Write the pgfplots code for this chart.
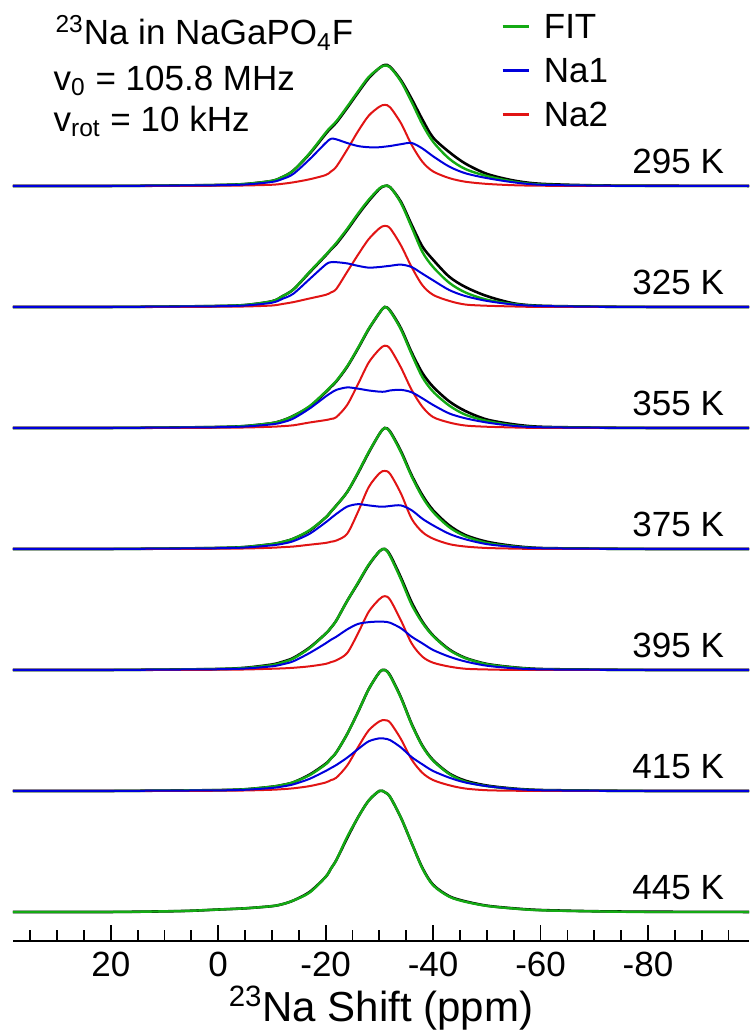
\documentclass[border=0pt]{standalone}
\usepackage{pgfplots}
\pgfplotsset{compat=1.18}
\usepackage{pgfplotstable}
\usepackage{fontspec}
\setmainfont{Liberation Sans}
\definecolor{fitc}{RGB}{20,170,20}
\definecolor{na1c}{RGB}{0,0,220}
\definecolor{na2c}{RGB}{225,20,20}

\pgfplotstableread{
x na1 na2 fit exp
38.2 0 0 0 0
20 0 0 0 0
10 0.003 0 0.003 0.003
0 0.006 0.002 0.008 0.008
-5 0.012 0.004 0.016 0.016
-10 0.033 0.010 0.042 0.042
-12 0.058 0.018 0.075 0.075
-14 0.10 0.030 0.128 0.128
-17 0.22 0.055 0.27 0.265
-20 0.355 0.09 0.44 0.43
-21 0.39 0.12 0.49 0.48
-22 0.385 0.16 0.535 0.525
-24 0.355 0.30 0.655 0.645
-26 0.33 0.45 0.78 0.77
-28 0.32 0.58 0.90 0.89
-30 0.32 0.655 0.975 0.975
-31 0.325 0.67 0.995 1.0
-32 0.33 0.65 0.98 0.985
-34 0.345 0.52 0.865 0.875
-36 0.355 0.34 0.695 0.72
-38 0.31 0.20 0.51 0.55
-40 0.245 0.12 0.365 0.40
-43 0.16 0.065 0.225 0.28
-46 0.105 0.035 0.14 0.185
-50 0.065 0.017 0.082 0.10
-55 0.03 0.006 0.036 0.045
-60 0.01 0.002 0.012 0.018
-70 0.003 0 0.003 0.005
-80 0 0 0 0.002
-98.8 0 0 0 0
}\tA

\pgfplotstableread{
x na1 na2 fit exp
38.2 0 0 0 0
20 0 0 0 0
10 0.003 0 0.003 0.003
0 0.006 0.002 0.008 0.008
-5 0.012 0.004 0.016 0.016
-10 0.035 0.012 0.047 0.047
-12 0.068 0.025 0.09 0.09
-14 0.11 0.04 0.145 0.145
-17 0.23 0.07 0.29 0.285
-20 0.35 0.10 0.43 0.425
-21 0.37 0.12 0.48 0.475
-22 0.37 0.15 0.53 0.52
-24 0.36 0.29 0.645 0.635
-26 0.34 0.43 0.77 0.76
-28 0.325 0.56 0.885 0.875
-30 0.33 0.65 0.98 0.975
-31 0.335 0.67 1.0 1.0
-32 0.34 0.65 0.99 0.99
-34 0.35 0.51 0.86 0.87
-36 0.33 0.33 0.66 0.68
-38 0.275 0.18 0.455 0.50
-40 0.22 0.10 0.33 0.39
-43 0.14 0.05 0.20 0.25
-46 0.09 0.02 0.12 0.165
-50 0.05 0.01 0.06 0.09
-55 0.02 0.004 0.024 0.03
-60 0.008 0 0.008 0.01
-70 0.002 0 0.002 0.003
-80 0 0 0 0
-98.8 0 0 0 0
}\tB

\pgfplotstableread{
x na1 na2 fit exp
38.2 0 0 0 0
20 0 0 0 0
10 0.003 0 0.003 0.003
0 0.006 0.002 0.008 0.008
-5 0.012 0.004 0.016 0.016
-10 0.03 0.01 0.04 0.04
-12 0.047 0.015 0.063 0.063
-14 0.078 0.022 0.10 0.10
-17 0.16 0.045 0.18 0.175
-20 0.26 0.065 0.30 0.295
-21 0.29 0.075 0.345 0.34
-22 0.315 0.09 0.39 0.385
-24 0.335 0.19 0.51 0.505
-26 0.325 0.36 0.66 0.655
-28 0.31 0.54 0.82 0.815
-30 0.30 0.65 0.95 0.95
-31 0.30 0.68 1.0 1.0
-32 0.31 0.655 0.965 0.97
-34 0.315 0.50 0.815 0.825
-36 0.295 0.315 0.61 0.625
-38 0.245 0.175 0.42 0.455
-40 0.19 0.09 0.30 0.34
-43 0.12 0.045 0.185 0.22
-46 0.08 0.02 0.11 0.14
-50 0.045 0.01 0.058 0.07
-55 0.017 0.004 0.021 0.03
-60 0.006 0 0.006 0.01
-70 0.002 0 0.002 0.003
-80 0 0 0 0
-98.8 0 0 0 0
}\tC

\pgfplotstableread{
x na1 na2 fit exp
38.2 0 0 0 0
20 0 0 0 0
10 0.003 0 0.003 0.003
0 0.006 0.002 0.008 0.008
-5 0.012 0.004 0.016 0.016
-10 0.03 0.01 0.04 0.04
-12 0.043 0.015 0.058 0.058
-14 0.065 0.02 0.085 0.085
-17 0.125 0.035 0.155 0.15
-20 0.22 0.05 0.26 0.26
-21 0.255 0.06 0.31 0.31
-22 0.29 0.07 0.36 0.36
-24 0.35 0.125 0.47 0.47
-26 0.37 0.305 0.63 0.625
-28 0.36 0.51 0.80 0.795
-30 0.35 0.625 0.95 0.95
-31 0.35 0.645 1.0 1.0
-32 0.355 0.62 0.965 0.97
-34 0.36 0.46 0.80 0.81
-36 0.32 0.25 0.60 0.61
-38 0.25 0.14 0.43 0.445
-40 0.195 0.085 0.305 0.32
-43 0.125 0.04 0.18 0.195
-46 0.08 0.02 0.105 0.115
-50 0.04 0.008 0.05 0.06
-55 0.017 0.003 0.02 0.025
-60 0.006 0 0.006 0.008
-70 0.002 0 0.002 0.003
-80 0 0 0 0
-98.8 0 0 0 0
}\tD

\pgfplotstableread{
x na1 na2 fit exp
38.2 0 0 0 0
20 0 0 0 0
10 0.003 0 0.003 0.003
0 0.006 0.002 0.008 0.008
-5 0.012 0.004 0.016 0.018
-10 0.03 0.01 0.04 0.045
-12 0.047 0.013 0.062 0.068
-14 0.072 0.018 0.095 0.10
-17 0.14 0.03 0.18 0.185
-20 0.22 0.05 0.30 0.30
-21 0.25 0.065 0.35 0.35
-22 0.275 0.08 0.41 0.41
-24 0.335 0.14 0.57 0.57
-26 0.38 0.30 0.72 0.715
-28 0.395 0.48 0.87 0.865
-30 0.40 0.585 0.98 0.98
-31 0.398 0.61 1.0 1.0
-32 0.39 0.58 0.94 0.95
-34 0.345 0.41 0.75 0.765
-36 0.275 0.22 0.54 0.56
-38 0.22 0.11 0.39 0.40
-40 0.165 0.06 0.28 0.285
-43 0.11 0.028 0.165 0.17
-46 0.07 0.01 0.097 0.10
-50 0.035 0.004 0.047 0.05
-55 0.014 0 0.02 0.022
-60 0.005 0 0.006 0.008
-70 0.002 0 0.002 0.003
-80 0 0 0 0
-98.8 0 0 0 0
}\tE

\pgfplotstableread{
x na1 na2 fit exp
38.2 0 0 0 0
20 0 0 0 0
10 0.003 0 0.003 0.003
0 0.005 0.002 0.007 0.007
-5 0.01 0.004 0.014 0.014
-10 0.025 0.01 0.035 0.035
-12 0.037 0.015 0.05 0.05
-14 0.055 0.022 0.072 0.072
-17 0.10 0.04 0.13 0.135
-20 0.165 0.07 0.22 0.225
-21 0.19 0.09 0.27 0.27
-22 0.215 0.11 0.32 0.32
-24 0.275 0.21 0.47 0.47
-26 0.345 0.36 0.65 0.65
-28 0.41 0.50 0.84 0.84
-30 0.435 0.575 0.98 0.98
-31 0.432 0.585 1.0 1.0
-32 0.42 0.565 0.95 0.955
-34 0.36 0.43 0.77 0.775
-36 0.28 0.26 0.55 0.555
-38 0.22 0.15 0.37 0.375
-40 0.165 0.09 0.25 0.255
-43 0.11 0.047 0.14 0.145
-46 0.07 0.02 0.077 0.085
-50 0.04 0.006 0.04 0.045
-55 0.017 0.002 0.017 0.02
-60 0.006 0 0.006 0.008
-70 0.002 0 0.002 0.003
-80 0 0 0 0
-98.8 0 0 0 0
}\tF

\pgfplotstableread{
x fit exp
38.2 0 0
20 0.0 0.0
10 0.005 0.005
5 0.01 0.01
0 0.02 0.02
-5 0.03 0.03
-10 0.048 0.048
-12 0.065 0.065
-14 0.095 0.095
-17 0.16 0.165
-20 0.29 0.29
-21 0.36 0.36
-22 0.43 0.43
-24 0.62 0.61
-26 0.78 0.78
-28 0.92 0.92
-30 1.0 1.0
-31 0.99 0.99
-32 0.95 0.95
-34 0.78 0.78
-36 0.57 0.57
-38 0.36 0.365
-40 0.22 0.225
-43 0.126 0.13
-46 0.084 0.088
-50 0.05 0.052
-55 0.028 0.03
-60 0.014 0.016
-70 0.005 0.006
-80 0 0.002
-98.8 0 0
}\tG

\newcommand{\spec}[2]{%
  \addplot[black, line width=1.3pt, smooth] table[x=x, y expr=\thisrow{exp}+#2] {#1};
  \addplot[fitc, line width=1.2pt, smooth] table[x=x, y expr=\thisrow{fit}+#2] {#1};
  \addplot[na2c, line width=1pt, smooth] table[x=x, y expr=\thisrow{na2}+#2] {#1};
  \addplot[na1c, line width=1pt, smooth] table[x=x, y expr=\thisrow{na1}+#2] {#1};
}

\begin{document}
\begin{tikzpicture}
\begin{axis}[
  at={(0pt,0pt)}, anchor=south west,
  scale only axis, width=368pt, height=470.5pt,
  x dir=reverse, xmin=-98.8, xmax=38.2, ymin=-0.24, ymax=7.537,
  axis x line*=bottom, axis y line=none,
  x axis line style={-, line width=1.2pt},
  xtick={20,0,-20,-40,-60,-80},
  xticklabels={20,0,-20,-40,-60,-80},
  minor xtick={35,30,25,15,10,5,-5,-10,-15,-25,-30,-35,-45,-50,-55,-65,-70,-75,-85,-90,-95},
  tick align=inside,
  major tick length=8pt, minor tick length=5.5pt,
  every tick/.style={black, line width=0.9pt},
  xticklabel style={font=\fontsize{17.5}{20}\selectfont, anchor=base, yshift=-17.5pt},
  xlabel={\textsuperscript{23}Na Shift (ppm)},
  x label style={at={(axis description cs:0.5,-0.086)}, anchor=base, font=\fontsize{21}{24}\selectfont},
  clip=false,
  legend style={draw=none, fill=none, at={(0.655,0.99)}, anchor=north west,
    font=\fontsize{17.5}{20}\selectfont, row sep=9.4pt,
    nodes={inner sep=0pt, text height=12.6pt, text depth=0pt}},
  legend cell align=left,
  legend image code/.code={\draw[#1] (0pt,0pt) -- (13pt,0pt); \path (20pt,0pt);},
]
\addlegendimage{fitc, line width=1.2pt}\addlegendentry{FIT}
\addlegendimage{na1c, line width=1.2pt}\addlegendentry{Na1}
\addlegendimage{na2c, line width=1.2pt}\addlegendentry{Na2}

\spec{\tA}{6}
\spec{\tB}{5}
\spec{\tC}{4}
\spec{\tD}{3}
\spec{\tE}{2}
\spec{\tF}{1}
\addplot[black, line width=1.3pt, smooth] table[x=x, y=exp] {\tG};
\addplot[fitc, line width=1.2pt, smooth] table[x=x, y=fit] {\tG};

\foreach \T/\o in {295/6,325/5,355/4,375/3,395/2,415/1,445/0}{
  \edef\tmp{\noexpand\node[anchor=base east, font=\noexpand\fontsize{17.5}{20}\noexpand\selectfont, inner sep=0pt] at (axis cs:-94.2,\o+0.1) {\T\ K};}
  \tmp
}
\node[anchor=base west, inner sep=0pt, font=\fontsize{17.5}{20}\selectfont] at (axis cs:30.35,7.165) {\textsuperscript{23}Na in NaGaPO\textsubscript{4}F};
\node[anchor=base west, inner sep=0pt, font=\fontsize{17.5}{20}\selectfont] at (axis cs:30.7,6.79) {v\textsubscript{0} = 105.8 MHz};
\node[anchor=base west, inner sep=0pt, font=\fontsize{17.5}{20}\selectfont] at (axis cs:30.7,6.45) {v\textsubscript{rot} = 10 kHz};
\end{axis}
\pgfresetboundingbox
\useasboundingbox (-6.5pt,-45.5pt) rectangle (368pt,470.5pt);
\end{tikzpicture}
\end{document}
